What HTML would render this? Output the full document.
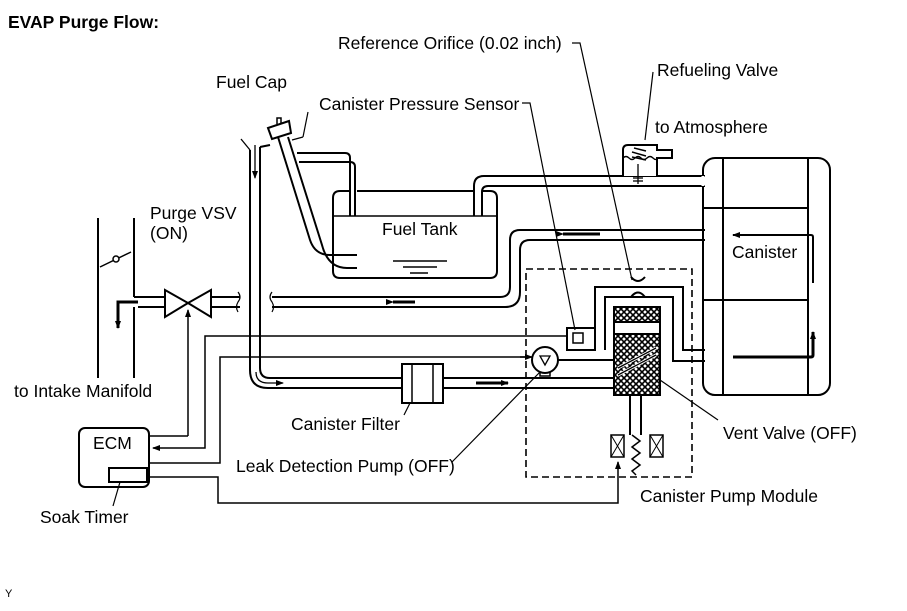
<!DOCTYPE html>
<html><head><style>
html,body{margin:0;padding:0;background:#fff;}
svg{display:block;}
text{font-family:"Liberation Sans",Arial,sans-serif;font-size:17.5px;fill:#000;}
</style></head><body>
<svg width="907" height="611" viewBox="0 0 907 611" xmlns="http://www.w3.org/2000/svg">
<defs>
<pattern id="hx" width="6" height="6" patternUnits="userSpaceOnUse">
<rect width="6" height="6" fill="#fff"/>
<path d="M0 0L6 6M6 0L0 6" stroke="#000" stroke-width="1.6"/>
</pattern>
<marker id="ar" markerWidth="8" markerHeight="6" refX="7" refY="3" orient="auto" markerUnits="userSpaceOnUse">
<path d="M0 0L8 3L0 6z" fill="#000"/>
</marker>
</defs>
<g fill="none" stroke="#000" stroke-width="2">
<line x1="98" y1="218" x2="98" y2="378"/>
<line x1="134" y1="218" x2="134" y2="297"/>
<line x1="134" y1="307" x2="134" y2="378"/>
<line x1="100" y1="267" x2="131" y2="252" stroke-width="1.5"/>
<circle cx="116" cy="259" r="3" fill="#fff" stroke-width="1.5"/>
<path d="M138 302H118V328" stroke-width="3" marker-end="url(#ar)"/>
<line x1="134" y1="297" x2="166" y2="297"/>
<line x1="138" y1="307" x2="166" y2="307"/>
<path d="M165 290L188 303L165 317Z M211 290L188 303L211 317Z" stroke-width="2"/>
<line x1="211" y1="297" x2="240" y2="297"/>
<line x1="211" y1="307" x2="240" y2="307"/>
<path d="M238 292q4 5 0 10q-3 5 0 10" stroke-width="1.2"/>
<path d="M272 292q-4 5 0 10q3 5 0 10" stroke-width="1.2"/>
<path d="M272 297H500q10 0 10-10V240q0-10 10-10H705"/>
<path d="M272 307H505q15 0 15-15V250q0-10 10-10H705"/>
<line x1="393" y1="302" x2="415" y2="302" stroke-width="3" marker-start="url(#ar)"/>
<line x1="563" y1="234" x2="600" y2="234" stroke-width="3" marker-start="url(#ar)"/>
<line x1="241" y1="139" x2="250" y2="150" stroke-width="1.3"/>
<path d="M250 150V370q0 18 18 18H403"/>
<path d="M260 147L270 145M260 147V368q0 10 10 10H403"/>
<path d="M255 145V178" stroke-width="1.3" marker-end="url(#ar)"/>
<path d="M256 372q0 11 12 11H283" stroke-width="1.3" marker-end="url(#ar)"/>
<rect x="402" y="364" width="41" height="39"/>
<line x1="412" y1="364" x2="412" y2="403" stroke-width="1.5"/>
<line x1="433" y1="364" x2="433" y2="403" stroke-width="1.5"/>
<line x1="443" y1="378" x2="614" y2="378"/>
<line x1="443" y1="388" x2="614" y2="388"/>
<line x1="476" y1="383" x2="508" y2="383" stroke-width="3" marker-end="url(#ar)"/>
<path d="M340 191H350M357 191H474M482 191H490q7 0 7 7V271q0 7-7 7H340q-7 0-7-7V198q0-7 7-7"/>
<line x1="333" y1="216" x2="497" y2="216" stroke-width="1.5"/>
<line x1="393" y1="261" x2="447" y2="261" stroke-width="1.5"/>
<line x1="403" y1="267" x2="437" y2="267" stroke-width="1.5"/>
<line x1="410" y1="273" x2="428" y2="273" stroke-width="1.5"/>
<path d="M278 137L310 240q5 15 20 15H357"/>
<path d="M288 137L322 245q6 23 25 23H357"/>
<path d="M268 128L289 121L291 133L272 139Z" stroke-width="2"/>
<path d="M277 124V118h4v5" stroke-width="1.5"/>
<path d="M297 153H345q5 0 5 5V216"/>
<path d="M299 162H350q5 0 5 5V216"/>
<line x1="308" y1="112" x2="303" y2="137" stroke-width="1.2"/>
<line x1="303" y1="137" x2="292" y2="140" stroke-width="1.2"/>
<path d="M474 216V186q0-10 10-10H705"/>
<path d="M482 216V192q0-6 6-6H705"/>
<path d="M623 176V150q0-5 5-5H657V150H672V158H657V176" fill="#fff"/>
<path d="M623 158q3-3 6 0q3 3 6 0q3-3 6 0q3 3 6 0q3-3 6 0q3 3 5 0" stroke-width="1.3"/>
<path d="M634 148L646 151M632 152L646 156M632 157L646 160" stroke-width="1.5"/>
<line x1="638" y1="164" x2="638" y2="184" stroke-width="1.3"/>
<line x1="633" y1="178" x2="643" y2="178" stroke-width="1.3"/>
<line x1="633" y1="181" x2="643" y2="181" stroke-width="1.3"/>
<line x1="653" y1="72" x2="645" y2="140" stroke-width="1.2"/>
<rect x="703" y="158" width="127" height="237" rx="12"/>
<line x1="723" y1="158" x2="723" y2="395"/>
<line x1="808" y1="158" x2="808" y2="395"/>
<line x1="703" y1="208" x2="808" y2="208"/>
<line x1="703" y1="300" x2="808" y2="300"/>
<line x1="703" y1="176" x2="703" y2="186" stroke="#fff" stroke-width="3"/>
<path d="M813 283V237q0-2-2-2H733" stroke-width="2" marker-end="url(#ar)"/>
<path d="M733 357H811q2 0 2-2V332" stroke-width="3" marker-end="url(#ar)"/>
<path d="M567 336H205V448H153" stroke-width="1.5" marker-end="url(#ar)"/>
<path d="M530 357H220V463H149" stroke-width="1.5"/>
<line x1="520" y1="357" x2="532" y2="357" stroke-width="1.5" marker-end="url(#ar)"/>
<path d="M188 436V310" stroke-width="1.5" marker-end="url(#ar)"/>
<path d="M188 436H149" stroke-width="1.5"/>
<path d="M149 477H218V503H618V462" stroke-width="1.5" marker-end="url(#ar)"/>
<rect x="79" y="428" width="70" height="59" rx="6"/>
<rect x="109" y="468" width="38" height="14" stroke-width="2"/>
<line x1="120" y1="482" x2="113" y2="506" stroke-width="1.2"/>
<rect x="526" y="269" width="166" height="208" stroke-dasharray="7,4" stroke-width="1.6"/>
<rect x="567" y="328" width="28" height="22" fill="#fff"/>
<rect x="573" y="333" width="10" height="10" stroke-width="1.5"/>
<circle cx="545" cy="360" r="13" fill="#fff"/>
<path d="M540 356H550L545 365Z" stroke-width="1.3"/>
<path d="M540 372V376H550V372" stroke-width="1.5"/>
<line x1="558" y1="360" x2="614" y2="360" stroke-width="2"/>
<path d="M595 350V287H683V350H705"/>
<path d="M605 350V297H673V361H705"/>
<rect x="614" y="307" width="46" height="88" fill="url(#hx)"/>
<rect x="614" y="322" width="46" height="12" fill="#fff"/>
<path d="M618 368L656 348M618 375L656 355" stroke="#fff" stroke-width="3"/>
<path d="M618 368L656 348M618 375L656 355" stroke-width="1.3"/>
<path d="M631 277q7 8 14 0" stroke-width="2"/>
<path d="M631 297q7-9 14 0" stroke-width="2"/>
<path d="M630 395V435M641 395V435"/>
<rect x="611" y="435" width="13" height="22" stroke-width="1.5"/>
<path d="M611 435L624 457M624 435L611 457" stroke-width="1"/>
<rect x="650" y="435" width="13" height="22" stroke-width="1.5"/>
<path d="M650 435L663 457M663 435L650 457" stroke-width="1"/>
<path d="M632 435L640 441L632 447L640 453L632 459L640 465L632 471L636 475" stroke-width="1.5"/>
<path d="M522 103H530L575 330" stroke-width="1.2"/>
<path d="M572 43H580L632 280" stroke-width="1.2"/>
<line x1="660" y1="380" x2="718" y2="420" stroke-width="1.2"/>
<line x1="540" y1="372" x2="452" y2="462" stroke-width="1.2"/>
<line x1="410" y1="403" x2="404" y2="415" stroke-width="1.2"/>
</g>
<text x="8" y="28" style="font-weight:bold;font-size:17.5px">EVAP Purge Flow:</text>
<text x="338" y="49">Reference Orifice (0.02 inch)</text>
<text x="657" y="76">Refueling Valve</text>
<text x="216" y="88">Fuel Cap</text>
<text x="319" y="110">Canister Pressure Sensor</text>
<text x="655" y="133">to Atmosphere</text>
<text x="150" y="219">Purge VSV</text>
<text x="150" y="239">(ON)</text>
<text x="382" y="235">Fuel Tank</text>
<text x="732" y="258">Canister</text>
<text x="14" y="397">to Intake Manifold</text>
<text x="291" y="430">Canister Filter</text>
<text x="723" y="439">Vent Valve (OFF)</text>
<text x="93" y="449">ECM</text>
<text x="236" y="472">Leak Detection Pump (OFF)</text>
<text x="640" y="502">Canister Pump Module</text>
<text x="40" y="523">Soak Timer</text>
<text x="5" y="597" style="font-size:11px">Y</text>
</svg>
</body></html>
